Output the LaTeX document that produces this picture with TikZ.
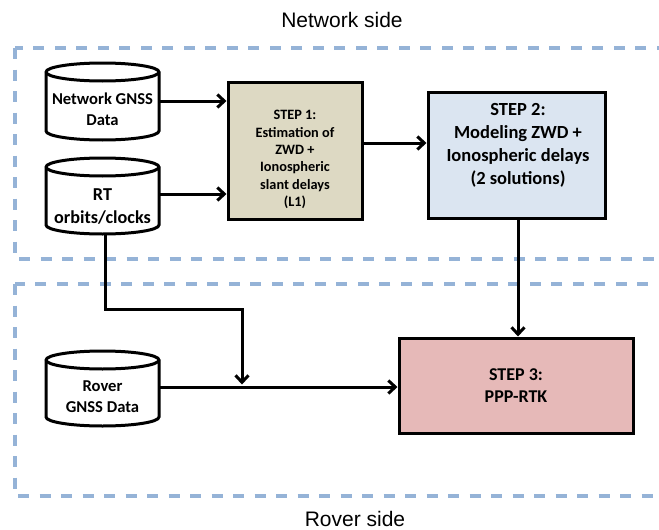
\documentclass[tikz,border=0pt]{standalone}
\usepackage{fontspec}
\setmainfont{Carlito}
\newfontfamily\labelfont{Liberation Sans}
\usetikzlibrary{arrows.meta}
\definecolor{zonecol}{HTML}{95B3D7}
\definecolor{stepone}{HTML}{DDD9C3}
\definecolor{steptwo}{HTML}{DBE5F1}
\definecolor{stepthree}{HTML}{E6B9B8}
% database cylinder: centre x, top y, bottom y
\newcommand\dbcyl[3]{%
  \draw[dbline] (#1-56.5,#2+9) -- (#1-56.5,#3-9)
    arc[start angle=180,end angle=360,x radius=56.5pt,y radius=9pt]
    -- (#1+56.5,#2+9)
    arc[start angle=0,end angle=180,x radius=56.5pt,y radius=9pt] -- cycle;
  \draw[dbline] (#1-56.5,#2+9)
    arc[start angle=180,end angle=360,x radius=56.5pt,y radius=9pt];}
\begin{document}
\begin{tikzpicture}[x=1pt,y=-1pt,
  zone/.style={draw=zonecol, line width=3.2pt, dash pattern=on 11pt off 10.5pt},
  sidelabel/.style={font=\labelfont\fontsize{21}{25}\selectfont, inner sep=0pt},
  stepbox/.style={draw=black, line width=3pt, inner sep=0pt},
  steptext/.style={inner sep=0pt, align=center, font=\bfseries},
  dbtext/.style={inner sep=0pt, minimum width=113pt, align=center,
    font=\bfseries\fontsize{16.6}{21}\selectfont},
  dbline/.style={line width=3pt},
  link/.style={line width=3pt},
  arr/.style={line width=3pt, -{Straight Barb[length=7pt,width=13pt]}}
]
\useasboundingbox (0,0) rectangle (659,530);
\clip (0,0) rectangle (659,530);

% network and rover zones
\draw[zone] (15,48) rectangle (700,259);
\draw[zone] (15,284) rectangle (700,496);
\node[sidelabel] (nettitle) at (342,20) {Network side};
\node[sidelabel] (rovtitle) at (355,518.5) {Rover side};

% data sources
\dbcyl{102.5}{63}{140}
\node[dbtext] (net) at (102.5,109.5) {Network GNSS\\Data};
\dbcyl{102.5}{158}{234}
\node[dbtext, font=\bfseries\fontsize{18.2}{23}\selectfont] (rt) at (102.5,206.5) {RT\\orbits/clocks};
\dbcyl{102.5}{351}{426}
\node[dbtext] (rover) at (102.5,396.5) {Rover\\GNSS Data};

% processing steps
\node[stepbox, fill=stepone, minimum width=134pt, minimum height=137pt] (s1) at (295,150.5) {};
\node[steptext, font=\bfseries\fontsize{14.3}{17.4}\selectfont] (s1txt) at (295,159.5)
  {STEP 1:\\Estimation of\\ZWD +\\Ionospheric\\slant delays\\(L1)};
\node[stepbox, fill=steptwo, minimum width=177pt, minimum height=126pt] (s2) at (516.5,155) {};
\node[steptext, font=\bfseries\fontsize{18.5}{23}\selectfont] (s2txt) at (518,145.5)
  {STEP 2:\\Modeling ZWD +\\Ionospheric delays\\(2 solutions)};
\node[stepbox, fill=stepthree, minimum width=234pt, minimum height=95pt] (s3) at (516,385.5) {};
\node[steptext, font=\bfseries\fontsize{18}{22}\selectfont] (s3txt) at (516,386)
  {STEP 3:\\PPP-RTK};

% connectors
\draw[arr] ([yshift=8.5pt]net.east) -- ([yshift=8.5pt]net.east -| s1.west);
\draw[arr] ([yshift=12.5pt]rt.east) -- ([yshift=12.5pt]rt.east -| s1.west);
\draw[arr] ([yshift=7.5pt]s1.east) -- ([yshift=7.5pt]s1.east -| s2.west);
\draw[arr] ([xshift=1.5pt]s2.south) -- ([xshift=1.5pt]s2.south |- s3.north);
\draw[arr] ([yshift=9.5pt]rover.east) -- ([yshift=9.5pt]rover.east -| s3.west);
\coordinate (rtb) at (105,234);
\coordinate (bendA) at (105,309);
\coordinate (bendB) at (242,309);
\coordinate (join) at (242,384.5);
\draw[arr] (rtb) -- (bendA) -- (bendB) -- (join);
\end{tikzpicture}
\end{document}
